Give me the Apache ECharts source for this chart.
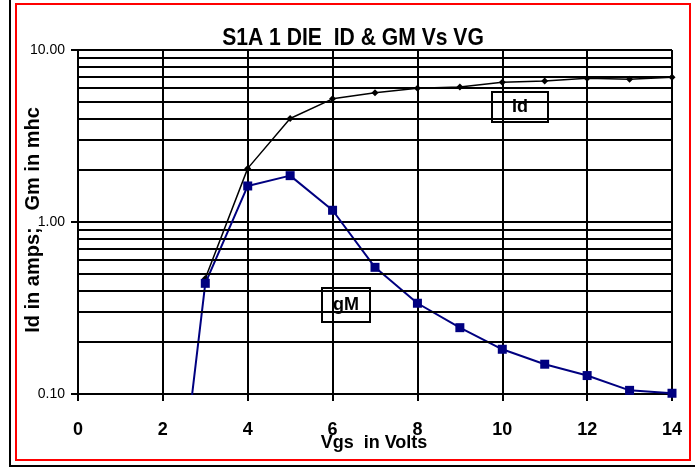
<!DOCTYPE html>
<html>
<head>
<meta charset="utf-8">
<script src="https://cdn.jsdelivr.net/npm/echarts@6/dist/echarts.min.js"></script>
<style>
  html, body { margin: 0; padding: 0; background: #fff; }
  #chart { width: 695px; height: 468px; }
</style>
</head>
<body>
<div id="chart"></div>
<script>
// Id & gM vs Vgs, log y axis
const vgs = [3, 4, 5, 6, 7, 8, 9, 10, 11, 12, 13, 14];
const idAmps = [0.47, 2.05, 4.0, 5.2, 5.65, 6.0, 6.1, 6.5, 6.6, 6.85, 6.75, 6.95];
const gmVgs = [2.5, 3, 4, 5, 6, 7, 8, 9, 10, 11, 12, 13, 14];
const gmMhc = [0.04, 0.44, 1.62, 1.86, 1.17, 0.545, 0.337, 0.243, 0.182, 0.149, 0.128, 0.105, 0.101];
const yTicks = [0.1, 1, 10];

// log grid lines 2..9 in each decade
const minorLines = [];
[0.1, 1].forEach(dec => {
  for (let k = 2; k <= 9; k++) minorLines.push({ yAxis: k * dec });
});

const FONT = '"Liberation Sans", Arial, sans-serif';
const chart = echarts.init(document.getElementById('chart'), null, { renderer: 'canvas' });

const option = {
  backgroundColor: '#fff',
  animation: false,
  grid: { left: 78, right: 23, top: 50, bottom: 74 },
  xAxis: {
    type: 'value',
    min: 0, max: 14, interval: 2,
    axisLine: { show: true, lineStyle: { color: '#000', width: 2 } },
    axisTick: { show: true, length: 7, lineStyle: { color: '#000', width: 2 } },
    splitLine: { show: true, lineStyle: { color: '#000', width: 2 } },
    axisLabel: { color: '#000', fontFamily: FONT, fontSize: 18, fontWeight: 'bold', margin: 27 }
  },
  yAxis: {
    type: 'log', logBase: 10,
    min: yTicks[0], max: yTicks[yTicks.length - 1],
    axisLine: { show: true, lineStyle: { color: '#000', width: 2 } },
    axisTick: { show: true, length: 7, lineStyle: { color: '#000', width: 2 } },
    splitLine: { show: true, lineStyle: { color: '#000', width: 2 } },
    axisLabel: {
      color: '#000', fontFamily: FONT, fontSize: 14, margin: 13,
      formatter: v => Number(v).toFixed(2)
    }
  },
  series: [
    {
      // only carries the minor log grid lines
      type: 'line', data: [], silent: true, z: 1,
      markLine: {
        silent: true, animation: false,
        symbol: ['none', 'none'],
        label: { show: false },
        lineStyle: { color: '#000', width: 2, type: 'solid' },
        data: minorLines
      }
    },
    {
      name: 'Id', type: 'line', z: 3,
      data: vgs.map((x, i) => [x, idAmps[i]]),
      symbol: 'diamond', symbolSize: 7,
      itemStyle: { color: '#000' },
      lineStyle: { color: '#000', width: 1.5 }
    },
    {
      name: 'gM', type: 'line', z: 4,
      data: gmVgs.map((x, i) => [x, gmMhc[i]]),
      symbol: 'rect', symbolSize: 9,
      itemStyle: { color: '#000080' },
      lineStyle: { color: '#000080', width: 2 }
    }
  ],
  graphic: [
    { type: 'rect', silent: true, z: 0, shape: { x: 10, y: -10, width: 700, height: 476 },
      style: { fill: 'none', stroke: '#000', lineWidth: 2 } },
    { type: 'rect', silent: true, z: 0, shape: { x: 16, y: 4, width: 674, height: 456 },
      style: { fill: 'none', stroke: '#ff0000', lineWidth: 2 } },
    { type: 'text', x: 353, y: 38, scaleX: 0.88, z: 10,
      style: { text: 'S1A 1 DIE  ID & GM Vs VG', x: 0, y: 0, align: 'center', verticalAlign: 'middle',
        font: 'bold 24px ' + FONT, fill: '#000' } },
    { type: 'text', x: 33, y: 220, rotation: Math.PI / 2, z: 10,
      style: { text: 'Id in amps;   Gm in mhc', x: 0, y: 0, align: 'center', verticalAlign: 'middle',
        font: 'bold 20px ' + FONT, fill: '#000' } },
    { type: 'text', x: 374, y: 443, z: 10,
      style: { text: 'Vgs  in Volts', x: 0, y: 0, align: 'center', verticalAlign: 'middle',
        font: 'bold 18px ' + FONT, fill: '#000' } },
    { type: 'group', x: 492, y: 92, z: 10, children: [
      { type: 'rect', shape: { x: 0, y: 0, width: 56, height: 30 },
        style: { fill: '#fff', stroke: '#000', lineWidth: 2 } },
      { type: 'text', style: { text: 'Id', x: 28, y: 15, align: 'center', verticalAlign: 'middle',
        font: 'bold 18px ' + FONT, fill: '#000' } }
    ] },
    { type: 'group', x: 322, y: 288, z: 10, children: [
      { type: 'rect', shape: { x: 0, y: 0, width: 48, height: 34 },
        style: { fill: '#fff', stroke: '#000', lineWidth: 2 } },
      { type: 'text', style: { text: 'gM', x: 24, y: 17, align: 'center', verticalAlign: 'middle',
        font: 'bold 18px ' + FONT, fill: '#000' } }
    ] }
  ]
};

chart.setOption(option);
</script>
</body>
</html>
